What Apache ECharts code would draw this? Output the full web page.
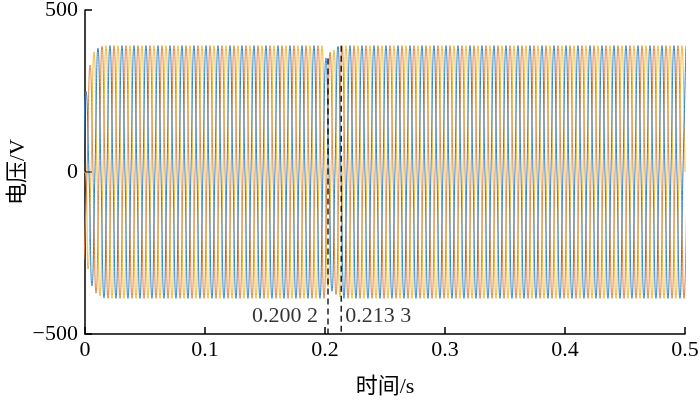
<!DOCTYPE html>
<html><head><meta charset="utf-8">
<script src="https://cdn.jsdelivr.net/npm/echarts@6/dist/echarts.min.js"></script>
<style>html,body{margin:0;padding:0;background:#fff}#c{width:700px;height:407px}</style>
</head><body><div id="c"></div>
<script>
// axis ticks
const xTicks = [0, 0.1, 0.2, 0.3, 0.4, 0.5];
const yTicks = [-500, 0, 500];
// sampling grid (quarter period) and start times of each phase
const stepT = 0.0025;
const startBlue = -0.0017;
const startOrange = -0.0008;
const startYellow = -0.0025;
// phase voltages (V) read at zero crossings and peaks
const blueV = [
0,250,0,-352,0,382,0,-389,0,390,0,-390,0,390,0,-390,0,390,0,-390,
0,390,0,-390,0,390,0,-390,0,390,0,-390,0,390,0,-390,0,390,0,-390,
0,390,0,-390,0,390,0,-390,0,390,0,-390,0,390,0,-390,0,390,0,-390,
0,390,0,-390,0,390,0,-390,0,390,0,-390,0,390,0,-390,0,390,0,-390,
0,352,0,-368,0,388,0,-390,0,390,0,-390,0,390,0,-390,0,390,0,-390,
0,390,0,-390,0,390,0,-390,0,390,0,-390,0,390,0,-390,0,390,0,-390,
0,390,0,-390,0,390,0,-390,0,390,0,-390,0,390,0,-390,0,390,0,-390,
0,390,0,-390,0,390,0,-390,0,390,0,-390,0,390,0,-390,0,390,0,-390,
0,390,0,-390,0,390,0,-390,0,390,0,-390,0,390,0,-390,0,390,0,-390,
0,390,0,-390,0,390,0,-390,0,390,0,-390,0,390,0,-390,0,390,0,-390,
0,390];
const orangeV = [
-270,0,330,0,-374,0,388,0,-390,0,390,0,-390,0,390,0,-390,0,390,0,
-390,0,390,0,-390,0,390,0,-390,0,390,0,-390,0,390,0,-390,0,390,0,
-390,0,390,0,-390,0,390,0,-390,0,390,0,-390,0,390,0,-390,0,390,0,
-390,0,390,0,-390,0,390,0,-390,0,390,0,-390,0,390,0,-390,0,390,0,
-390,0,370,0,-378,0,390,0,-390,0,390,0,-390,0,390,0,-390,0,390,0,
-390,0,390,0,-390,0,390,0,-390,0,390,0,-390,0,390,0,-390,0,390,0,
-390,0,390,0,-390,0,390,0,-390,0,390,0,-390,0,390,0,-390,0,390,0,
-390,0,390,0,-390,0,390,0,-390,0,390,0,-390,0,390,0,-390,0,390,0,
-390,0,390,0,-390,0,390,0,-390,0,390,0,-390,0,390,0,-390,0,390,0,
-390,0,390,0,-390,0,390,0,-390,0,390,0,-390,0,390,0,-390,0,390,0,
-390,0];
const yellowV = [
0,0,-300,0,371,0,-383,0,390,0,-390,0,390,0,-390,0,390,0,-390,0,
390,0,-390,0,390,0,-390,0,390,0,-390,0,390,0,-390,0,390,0,-390,0,
390,0,-390,0,390,0,-390,0,390,0,-390,0,390,0,-390,0,390,0,-390,0,
390,0,-390,0,390,0,-390,0,390,0,-390,0,390,0,-390,0,390,0,-390,0,
390,0,-355,0,377,0,-386,0,390,0,-390,0,390,0,-390,0,390,0,-390,0,
390,0,-390,0,390,0,-390,0,390,0,-390,0,390,0,-390,0,390,0,-390,0,
390,0,-390,0,390,0,-390,0,390,0,-390,0,390,0,-390,0,390,0,-390,0,
390,0,-390,0,390,0,-390,0,390,0,-390,0,390,0,-390,0,390,0,-390,0,
390,0,-390,0,390,0,-390,0,390,0,-390,0,390,0,-390,0,390,0,-390,0,
390,0,-390,0,390,0,-390,0,390,0,-390,0,390,0,-390,0,390,0,-390,0,
390,0];
// event markers
const eventTimes = [0.2025, 0.2135];
const eventTops = [350, 390];
const eventLabels = ['0.200 2', '0.213 3'];
const eventLabelV = -444;

const FONT = '"Liberation Serif","Noto Sans CJK SC",serif';
const FS = 22;
function toPairs(start, vals) { return vals.map((v, i) => [start + i * stepT, v]); }
function waveSeries(name, color, start, vals) {
  return { name, type: 'line', data: toPairs(start, vals), smooth: true, showSymbol: false,
    symbol: 'none', clip: true, lineStyle: { color, width: 1 }, silent: true, z: 2 };
}
const chart = echarts.init(document.getElementById('c'), null, { renderer: 'canvas' });
const series = [
  waveSeries('C', '#EFB833', startYellow, yellowV),
  waveSeries('B', '#DF8040', startOrange, orangeV),
  waveSeries('A', '#2F82C8', startBlue, blueV)
];
eventTimes.forEach((t, k) => {
  series.push({ type: 'line', data: [[t, eventTops[k]], [t, yTicks[0]]], showSymbol: false, symbol: 'none',
    lineStyle: { color: '#000', width: 1.3, type: [6, 4] }, z: 5, silent: true });
  series.push({ type: 'scatter', data: [[t, eventLabelV]], symbolSize: 0, z: 6, silent: true,
    label: { show: true, formatter: eventLabels[k], position: k === 0 ? 'left' : 'right', distance: k === 0 ? 10 : 4,
      fontFamily: FONT, fontSize: FS, color: '#000' } });
});
chart.setOption({
  animation: false,
  backgroundColor: '#fff',
  grid: { left: 85, right: 15, top: 10, bottom: 73, containLabel: false, outerBoundsMode: 'none' },
  xAxis: {
    type: 'value', min: xTicks[0], max: xTicks[xTicks.length - 1], interval: 0.1,
    name: '时间/s', nameLocation: 'middle', nameGap: 42, nameMoveOverlap: false,
    nameTextStyle: { fontFamily: FONT, fontSize: FS, color: '#000' },
    axisLine: { show: true, onZero: false, lineStyle: { color: '#000', width: 1.5 } },
    axisTick: { show: true, inside: true, length: 7, lineStyle: { color: '#000', width: 1.5 } },
    axisLabel: { margin: 5, fontFamily: FONT, fontSize: FS, color: '#000' },
    splitLine: { show: false }
  },
  yAxis: {
    type: 'value', min: yTicks[0], max: yTicks[yTicks.length - 1], interval: 500,
    name: '电压/V', nameLocation: 'middle', nameGap: 56, nameRotate: 90, nameMoveOverlap: false,
    nameTextStyle: { fontFamily: FONT, fontSize: FS, color: '#000' },
    axisLine: { show: true, onZero: false, lineStyle: { color: '#000', width: 1.5 } },
    axisTick: { show: true, inside: true, length: 7, lineStyle: { color: '#000', width: 1.5 } },
    axisLabel: { margin: 7, fontFamily: FONT, fontSize: FS, color: '#000',
      formatter: v => (v < 0 ? '\u2212' + Math.abs(v) : String(v)) },
    splitLine: { show: false }
  },
  series
});
</script></body></html>
